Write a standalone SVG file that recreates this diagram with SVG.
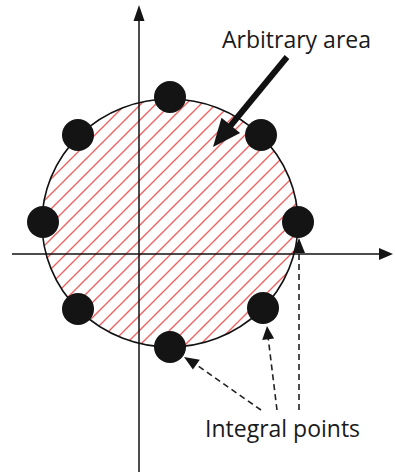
<svg xmlns="http://www.w3.org/2000/svg" width="395" height="473" viewBox="0 0 395 473">
<style>
.axis{stroke:#111;stroke-width:1.5;fill:none}
.dash{stroke:#222;stroke-width:1.6;stroke-dasharray:6 4;fill:none}
.dot{fill:#141414}
.lbl{font-family:"Open Sans","Liberation Sans",sans-serif;font-size:23px;fill:#1a1a1a}
.head{fill:#141414}
</style>
<defs>
<pattern id="hatch" patternUnits="userSpaceOnUse" width="15" height="15" x="5" y="0">
<path d="M-1,1 L1,-1 M0,15 L15,0 M14,16 L16,14" stroke="#f06262" stroke-width="1.4"/>
</pattern>
</defs>
<g id="area">
<ellipse cx="170" cy="223" rx="128" ry="124" fill="#fff"/>
<ellipse cx="170" cy="223" rx="128" ry="124" fill="url(#hatch)" stroke="#111" stroke-width="1.6"/>
</g>
<g id="connectors">
<line class="axis" x1="12" y1="254" x2="381" y2="254"/>
<polygon class="head" points="393,254 379,248 379,260"/>
<line class="axis" x1="139" y1="472" x2="139" y2="18"/>
<polygon class="head" points="139,5 133.5,21 144.5,21"/>
<line x1="287" y1="57" x2="229" y2="127.5" stroke="#111" stroke-width="6"/>
<polygon class="head" points="213,147 240.1,133 221.5,117.8"/>
<line class="dash" x1="261" y1="410" x2="196" y2="364.5"/>
<polygon class="head" points="184,357 199.8,359.8 192.9,369.6"/>
<line class="dash" x1="277" y1="410" x2="268.3" y2="339"/>
<polygon class="head" points="267,326 262.2,340 274.1,338.6"/>
<line class="dash" x1="299" y1="410" x2="299" y2="251"/>
<polygon class="head" points="299,238 293,253 305,253"/>
</g>
<g id="points">
<circle class="dot" cx="170" cy="97" r="16"/>
<circle class="dot" cx="78" cy="135" r="16"/>
<circle class="dot" cx="261" cy="135" r="16"/>
<circle class="dot" cx="43" cy="222" r="16"/>
<circle class="dot" cx="298" cy="222" r="16"/>
<circle class="dot" cx="78" cy="309" r="16"/>
<circle class="dot" cx="263" cy="308" r="16"/>
<circle class="dot" cx="170" cy="347" r="16"/>
</g>
<g id="label-area"><text class="lbl" x="222" y="48">Arbitrary area</text></g>
<g id="label-points"><text class="lbl" x="205" y="437">Integral points</text></g>
</svg>
